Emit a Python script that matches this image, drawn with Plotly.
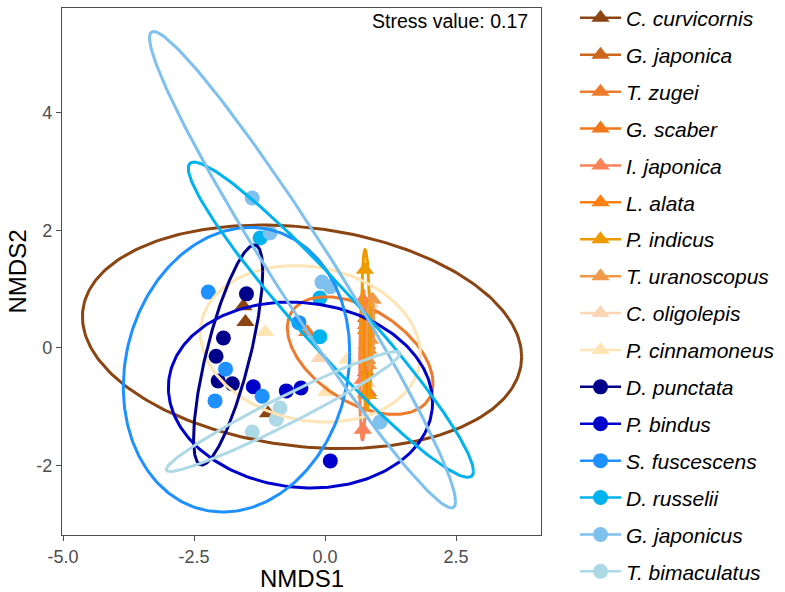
import numpy as np
import plotly.graph_objects as go

species = ["C. curvicornis", "G. japonica", "T. zugei", "G. scaber", "I. japonica",
           "L. alata", "P. indicus", "T. uranoscopus", "C. oligolepis", "P. cinnamoneus",
           "D. punctata", "P. bindus", "S. fuscescens", "D. russelii", "G. japonicus",
           "T. bimaculatus"]
colors = ["#8B4513", "#CD661D", "#EE7A2D", "#F07818", "#FA8258", "#FF8010", "#EE9A00",
          "#EE9A49", "#FCD5B5", "#FFE4B5", "#00008B", "#0000CD", "#1E90FF", "#00B2EE",
          "#7EC0EE", "#ADD8E6"]
symbols = ["triangle-up"] * 10 + ["circle"] * 6

# sample scores (NMDS1, NMDS2) per species
pts_x = [
    [-1.56, -1.52, -1.09],
    [0.78, 0.80, 0.78],
    [-0.34, 0.82, 0.80],
    [0.78, 0.80, 0.78],
    [0.72, 0.72, 0.72],
    [0.82, 0.82, 0.82],
    [0.76, 0.78, 0.80],
    [0.91, 0.86, 0.82],
    [-0.10, 0.85, 0.80],
    [-1.14, 0.42, 0.02],
    [-1.50, -1.94, -2.08, -2.04, -1.77],
    [-1.37, -0.74, -0.46, 0.10],
    [-2.23, -1.90, -2.10, -1.20, -0.50],
    [-1.24, -0.10, -0.10],
    [-1.39, -1.05, -0.06, 0.10, 1.05],
    [-0.86, -0.93, -1.39],
]
pts_y = [
    [0.71, 0.44, -1.11],
    [0.51, 0.05, -0.41],
    [0.27, -0.75, 0.30],
    [0.39, -0.20, -0.77],
    [0.82, -0.54, -1.39],
    [0.65, -0.03, -0.80],
    [1.33, 0.31, -0.80],
    [0.82, 0.14, -0.29],
    [-0.17, 0.75, -0.60],
    [0.27, -0.20, -0.75],
    [0.92, 0.17, -0.14, -0.56, -0.61],
    [-0.66, -0.73, -0.68, -1.92],
    [0.95, -0.36, -0.90, -0.82, 0.43],
    [1.87, 0.85, 0.19],
    [2.55, 1.96, 1.12, 1.04, -1.26],
    [-1.02, -1.21, -1.43],
]

# confidence ellipses: centre, half-extent in x and y, correlation
ell_cx = [-0.44, 0.80, 0.67, 0.78, 0.72, 0.82, 0.78, 0.86, None, -0.28,
          -1.85, -0.47, -1.69, 0.11, -0.43, -0.80]
ell_cy = [0.19, 0.05, -0.13, -0.17, -0.29, -0.02, 0.31, 0.27, None, 0.07,
          -0.12, -0.80, -0.37, 0.48, 1.33, -1.08]
ell_hx = [4.19, 0.04, 1.39, 0.05, 0.06, 0.07, 0.08, 0.07, None, 2.10,
          0.66, 2.52, 2.16, 2.72, 2.92, 2.23]
ell_hy = [1.90, 0.60, 1.00, 0.64, 1.28, 0.85, 1.36, 0.64, None, 1.33,
          1.87, 1.58, 2.42, 2.68, 4.05, 1.02]
ell_r = [-0.18, 0.1, -0.47, 0.1, 0.1, 0.1, -0.2, 0.2, None, -0.14,
         0.76, -0.08, 0.12, -0.96, -0.973, 0.966]

x_ticks = [-5.0, -2.5, 0.0, 2.5]
x_ticktext = ["-5.0", "-2.5", "0.0", "2.5"]
y_ticks = [-2, 0, 2, 4]
y_ticktext = ["-2", "0", "2", "4"]
stress_label = "Stress value: 0.17"
x_title = "NMDS1"
y_title = "NMDS2"

FONT = "Liberation Sans, Arial, Helvetica, sans-serif"
fig = go.Figure()

# points
for i, sp in enumerate(species):
    fig.add_trace(go.Scatter(
        x=pts_x[i], y=pts_y[i], mode="markers",
        marker=dict(symbol=symbols[i], size=15 if symbols[i] == "circle" else 16,
                    color=colors[i], line=dict(width=0)),
        showlegend=False, hoverinfo="skip"))

# ellipses
t = np.linspace(0, 2 * np.pi, 241)
for i, sp in enumerate(species):
    if ell_cx[i] is None:
        continue
    r = ell_r[i]
    ex = ell_cx[i] + ell_hx[i] * np.cos(t)
    ey = ell_cy[i] + ell_hy[i] * (r * np.cos(t) + np.sqrt(1 - r * r) * np.sin(t))
    fig.add_trace(go.Scatter(x=ex, y=ey, mode="lines",
                             line=dict(color=colors[i], width=3),
                             showlegend=False, hoverinfo="skip"))

# legend entries
for i, sp in enumerate(species):
    fig.add_trace(go.Scatter(
        x=[None], y=[None], mode="lines+markers", name="<i>" + sp + "</i>",
        legendgroup=sp,
        line=dict(color=colors[i], width=2.5),
        marker=dict(symbol=symbols[i], size=15 if symbols[i] == "circle" else 17,
                    color=colors[i])))

fig.add_annotation(x=1, y=1, xref="x domain", yref="y domain", xanchor="right", yanchor="top",
                   xshift=-11, yshift=0, text=stress_label, showarrow=False,
                   font=dict(family=FONT, size=19.5, color="black"))
fig.add_annotation(x=0.5, y=-0.0816, xref="x domain", yref="y domain", xanchor="center",
                   yanchor="middle", text=x_title, showarrow=False,
                   font=dict(family=FONT, size=24, color="black"))
fig.add_annotation(x=-0.0919, y=0.5, xref="x domain", yref="y domain", xanchor="center",
                   yanchor="middle", text=y_title, showarrow=False, textangle=-90,
                   font=dict(family=FONT, size=24, color="black"))

axis_common = dict(showgrid=False, zeroline=False, showline=True, mirror=True,
                   linecolor="#4D4D4D", linewidth=1.2, ticks="outside", ticklen=5,
                   tickcolor="#4D4D4D", automargin=False,
                   tickfont=dict(family=FONT, size=18, color="#4D4D4D"))

fig.update_layout(
    width=785, height=592,
    margin=dict(l=62, r=244, t=0, b=57, autoexpand=False),
    paper_bgcolor="white", plot_bgcolor="white",
    xaxis=dict(range=[-5.02, 4.12], tickvals=x_ticks, ticktext=x_ticktext, **axis_common),
    yaxis=dict(range=[-3.18, 5.78], tickvals=y_ticks, ticktext=y_ticktext,
               domain=[0, 1 - 8 / 535], **axis_common),
    legend=dict(x=(575 - 62) / 479, xanchor="left", y=1 + 2.3 / 535, yanchor="top",
                font=dict(family=FONT, size=21, color="black"), maxheight=700,
                tracegroupgap=6.6, itemwidth=41, bgcolor="rgba(0,0,0,0)"),
    showlegend=True,
)

fig.write_html("out.html", config={"displayModeBar": False},
               post_script="document.body.style.margin='0px';")
